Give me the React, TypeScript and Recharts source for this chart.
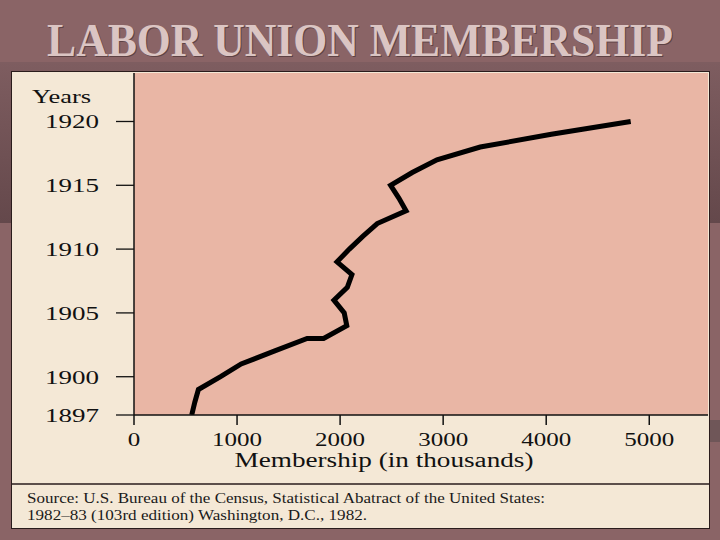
import React from "react";
import {
  LineChart,
  Line,
  XAxis,
  YAxis,
  CartesianGrid,
} from "recharts";

// values (membership in thousands)
const years = [
  1897, 1898, 1899, 1900, 1901, 1902, 1903, 1903, 1904, 1905, 1906, 1907,
  1908, 1909, 1910, 1911, 1912, 1913, 1914, 1915, 1916, 1917, 1918, 1919,
  1920,
];
const members = [
  560, 590, 625, 840, 1040, 1360, 1680, 1840, 2065, 2040, 1940, 2070, 2115,
  1970, 2090, 2220, 2360, 2640, 2570, 2490, 2700, 2940, 3360, 4050, 4820,
];
const yearTicks = [1897, 1900, 1905, 1910, 1915, 1920];
const memberTicks = [0, 1000, 2000, 3000, 4000, 5000];

const data = years.map((year, i) => ({ year, members: members[i] }));

const serif = "'Liberation Serif', 'DejaVu Serif', serif";

const YearTick = ({ x, y, payload }: any) => {
  const s = String(payload.value);
  return (
    <text
      x={x}
      y={y}
      dy={7}
      textAnchor="end"
      fontFamily={serif}
      fontSize={19}
      fill="#111"
      textLength={13.5 * s.length}
      lengthAdjust="spacingAndGlyphs"
    >
      {s}
    </text>
  );
};

const MemberTick = ({ x, y, payload }: any) => {
  const s = String(payload.value);
  return (
    <text
      x={x}
      y={y}
      dy={13}
      textAnchor="middle"
      fontFamily={serif}
      fontSize={19}
      fill="#111"
      textLength={12.5 * s.length}
      lengthAdjust="spacingAndGlyphs"
    >
      {s}
    </text>
  );
};

export default function App() {
  return (
    <div
      style={{
        position: "absolute",
        left: 0,
        top: 0,
        width: 720,
        height: 540,
        background: "#8a6466",
        overflow: "hidden",
      }}
    >
      {/* darker band behind the top of the panel */}
      <div
        style={{
          position: "absolute",
          left: 0,
          top: 62,
          width: 720,
          height: 161,
          background: "linear-gradient(#7e5d60, #64484b)",
        }}
      />
      <div
        style={{
          position: "absolute",
          left: 709,
          top: 420,
          width: 11,
          height: 22,
          background: "#6f5658",
        }}
      />
      <svg
        width={720}
        height={72}
        style={{ position: "absolute", left: 0, top: 0 }}
      >
        <text
          x={361}
          y={57}
          textAnchor="middle"
          fontFamily={serif}
          fontWeight="bold"
          fontSize={46}
          fill="#5e4244"
          textLength={626}
          lengthAdjust="spacingAndGlyphs"
        >
          LABOR UNION MEMBERSHIP
        </text>
        <text
          x={360}
          y={56}
          textAnchor="middle"
          fontFamily={serif}
          fontWeight="bold"
          fontSize={46}
          fill="#dbc5c3"
          textLength={626}
          lengthAdjust="spacingAndGlyphs"
        >
          LABOR UNION MEMBERSHIP
        </text>
      </svg>
      {/* cream panel */}
      <div
        style={{
          position: "absolute",
          left: 12,
          top: 72,
          width: 697,
          height: 456,
          background: "#f4e8d6",
        }}
      />
      <div style={{ position: "absolute", left: 12, top: 72 }}>
        <LineChart
          width={696}
          height={412}
          data={data}
          margin={{ top: 1, right: 0, left: 0, bottom: 0 }}
        >
          <CartesianGrid
            horizontal={false}
            vertical={false}
            fill="#e9b6a5"
            fillOpacity={1}
          />
          <XAxis
            type="number"
            dataKey="members"
            domain={[0, 5570]}
            ticks={memberTicks}
            allowDataOverflow
            height={69}
            axisLine={{ stroke: "#111", strokeWidth: 1.5 }}
            tickLine={{ stroke: "#111", strokeWidth: 1.5 }}
            tickSize={10}
            tickMargin={8}
            tick={<MemberTick />}
            label={{
              content: ({ viewBox }: any) => (
                <text
                  x={372}
                  y={viewBox.y + 52}
                  textAnchor="middle"
                  fontFamily={serif}
                  fontSize={20}
                  fill="#111"
                  textLength={299}
                  lengthAdjust="spacingAndGlyphs"
                >
                  Membership (in thousands)
                </text>
              ),
            }}
          />
          <YAxis
            type="number"
            domain={[1897, 1923.8]}
            ticks={yearTicks}
            allowDataOverflow
            width={122}
            axisLine={{ stroke: "#111", strokeWidth: 1.5 }}
            tickLine={{ stroke: "#111", strokeWidth: 1.3 }}
            tickSize={18}
            tickMargin={17}
            tick={<YearTick />}
            label={{
              content: () => (
                <text
                  x={20}
                  y={31}
                  fontFamily={serif}
                  fontSize={18}
                  fill="#111"
                  textLength={59}
                  lengthAdjust="spacingAndGlyphs"
                >
                  Years
                </text>
              ),
            }}
          />
          <Line
            dataKey="year"
            stroke="#000"
            strokeWidth={5}
            strokeLinejoin="miter"
            dot={false}
            activeDot={false}
            isAnimationActive={false}
          />
        </LineChart>
      </div>
      {/* footer source note */}
      <svg
        width={720}
        height={60}
        style={{ position: "absolute", left: 0, top: 480 }}
      >
        <line x1={12} x2={709} y1={4} y2={4} stroke="#2a1c1c" strokeWidth={1.5} />
        <text
          x={27}
          y={23}
          fontFamily={serif}
          fontSize={14}
          fill="#1a1a1a"
          textLength={518}
          lengthAdjust="spacingAndGlyphs"
        >
          Source: U.S. Bureau of the Census, Statistical Abatract of the United
          States:
        </text>
        <text
          x={27}
          y={40}
          fontFamily={serif}
          fontSize={14}
          fill="#1a1a1a"
          textLength={340}
          lengthAdjust="spacingAndGlyphs"
        >
          1982–83 (103rd edition) Washington, D.C., 1982.
        </text>
      </svg>
      {/* panel border */}
      <div
        style={{
          position: "absolute",
          left: 11,
          top: 71,
          width: 697,
          height: 456,
          border: "1.5px solid #2a1c1c",
          pointerEvents: "none",
        }}
      />
    </div>
  );
}
